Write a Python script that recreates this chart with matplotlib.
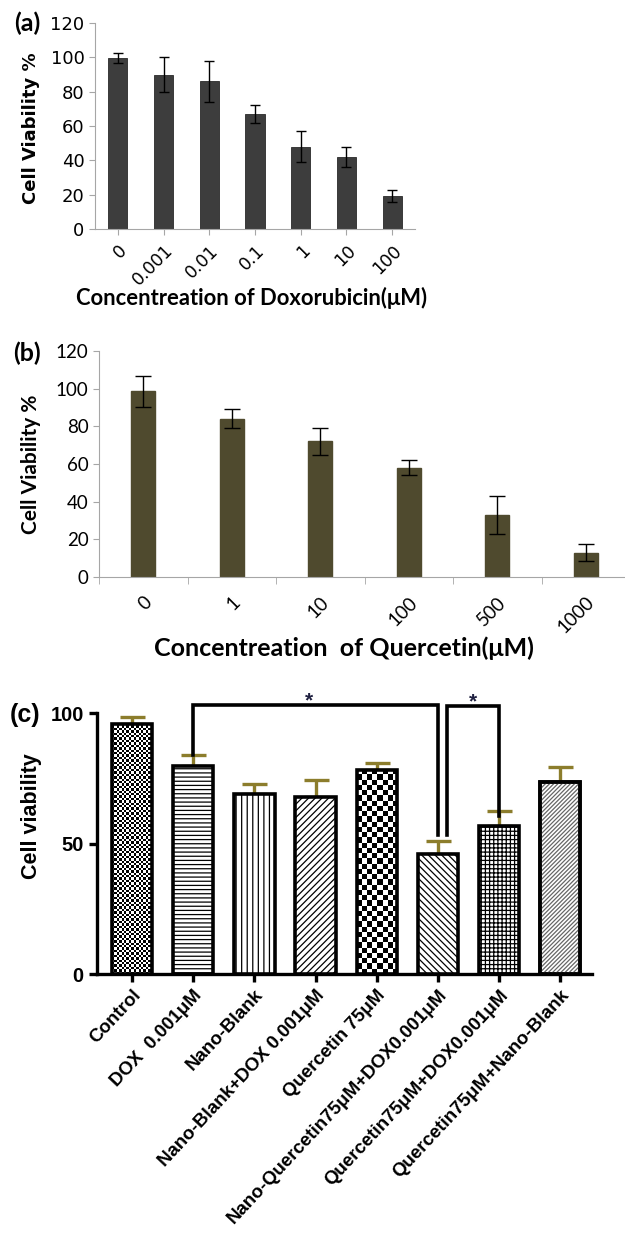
import numpy as np
import matplotlib.pyplot as plt

# ---- data ----
dox_conc = ["0", "0.001", "0.01", "0.1", "1", "10", "100"]
dox_via = [99.5, 90, 86, 67, 48, 42, 19.5]
dox_err = [3, 10, 12, 5, 9, 6, 3.5]

que_conc = ["0", "1", "10", "100", "500", "1000"]
que_via = [98.5, 84, 72, 58, 33, 13]
que_err = [8, 5, 7, 4, 10, 4.5]

groups = ["Control", "DOX  0.001μM", "Nano-Blank", "Nano-Blank+DOX 0.001μM",
          "Quercetin 75μM", "Nano-Quercetin75μM+DOX0.001μM",
          "Quercetin75μM+DOX0.001μM", "Quercetin75μM+Nano-Blank"]
grp_via = [95.8, 79.6, 69, 68, 78.3, 46.1, 56.6, 73.6]
grp_err = [2.7, 4.3, 3.8, 6.5, 2.5, 4.7, 5.7, 5.7]
sig_pairs = [(1, 5), (5, 6)]

W, H = 625, 1235
fig = plt.figure(figsize=(W / 100, H / 100), dpi=100)
plt.rcParams['hatch.linewidth'] = 0.9
arial = ['Liberation Sans', 'DejaVu Sans']


def axes_px(l, t, r, b):
    return fig.add_axes([l / W, 1 - b / H, (r - l) / W, (b - t) / H])


def ftext(x, y, s, **kw):
    fig.text(x / W, 1 - y / H, s, **kw)


gray = '#a6a6a6'

# ---- (a) doxorubicin ----
ax1 = axes_px(95, 23, 415, 229)
x = np.arange(len(dox_conc))
ax1.bar(x, dox_via, width=0.42, color='#3d3d3d', edgecolor='#2a2a2a', lw=0.6)
ax1.errorbar(x, dox_via, yerr=dox_err, fmt='none', ecolor='black', elinewidth=1,
             capsize=3.6, capthick=1)
ax1.set_xlim(-0.5, 6.5)
ax1.set_ylim(0, 120)
ax1.set_yticks(range(0, 121, 20))
ax1.set_xticks(x)
ax1.set_xticklabels(dox_conc, rotation=45, ha='right', va='top', rotation_mode='anchor')
for s in ['top', 'right']:
    ax1.spines[s].set_visible(False)
for s in ['left', 'bottom']:
    ax1.spines[s].set_color(gray)
ax1.tick_params(colors=gray, labelcolor='black', labelsize=13, length=4)
ax1.tick_params(axis='x', labelsize=12.5, pad=5)
ftext(252, 298, "Concentreation of Doxorubicin(μM)", family='Lato', weight='bold',
      fontsize=15.8, ha='center', va='center')
ftext(31, 128, "Cell Viability %", fontsize=13, weight='bold', rotation=90,
      ha='center', va='center')
ftext(27, 23, "(a)", family='Lato', fontsize=18, weight='bold', ha='center', va='center')

# ---- (b) quercetin ----
ax2 = axes_px(99, 351, 630, 577)
x = np.arange(len(que_conc))
ax2.bar(x, que_via, width=0.27, color='#4f4a2e', edgecolor='#4f4a2e')
ax2.errorbar(x, que_via, yerr=que_err, fmt='none', ecolor='black', elinewidth=1,
             capsize=5.5, capthick=1)
ax2.set_xlim(-0.5, 5.5)
ax2.set_ylim(0, 120)
ax2.set_yticks(range(0, 121, 20))
ax2.set_xticks(x)
ax2.set_xticks(np.arange(-0.5, 6, 1), minor=True)
ax2.set_xticklabels(que_conc, rotation=45, ha='right', va='top', rotation_mode='anchor',
                    family='Lato')
for lab in ax2.get_yticklabels():
    lab.set_family('Lato')
for s in ['top', 'right']:
    ax2.spines[s].set_visible(False)
for s in ['left', 'bottom']:
    ax2.spines[s].set_color(gray)
ax2.tick_params(colors=gray, labelcolor='black', labelsize=13.5, length=4)
ax2.tick_params(axis='x', which='major', length=0, pad=12)
ax2.tick_params(axis='x', which='minor', length=5, color=gray)
ftext(344, 648, "Concentreation  of Quercetin(μM)", family='Lato', weight='bold',
      fontsize=18, ha='center', va='center')
ftext(31, 464, "Cell Viability %", family='Lato', fontsize=15, weight='bold',
      rotation=90, ha='center', va='center')
ftext(27, 353, "(b)", family='Lato', fontsize=18, weight='bold', ha='center', va='center')

# ---- (c) combinations ----
ax3 = axes_px(97, 713, 592, 974)
x = np.arange(len(groups))
ax3.set_xlim(-0.573, 7.52)
ax3.set_ylim(0, 100)
hatches = [None, '----', '|||', '/////', None, '\\\\\\\\\\', '++++', None]
faces = ['none', 'white', 'white', 'white', 'none', 'white', 'white', 'white']
bars = ax3.bar(x, grp_via, width=0.66, color=faces, edgecolor='black',
               lw=2.6, zorder=3)
for b, h in zip(bars, hatches):
    if h:
        b.set_hatch(h)
# grey fine diagonal texture for the last group, under its black outline
ax3.bar(x[-1:], grp_via[-1:], width=0.66, facecolor='none', edgecolor='#666666',
        lw=0, hatch='////////', zorder=3.2)
ax3.bar(x[-1:], grp_via[-1:], width=0.66, facecolor='none', edgecolor='black',
        lw=2.6, zorder=3.4)
ax3.errorbar(x, grp_via, yerr=[[0] * len(x), grp_err], fmt='none', ecolor='#8c7d2c',
             elinewidth=2.4, capsize=9, capthick=2.4, zorder=2)


def checker(ax, bar, cell):
    # checkerboard texture clipped to the bar outline
    bx, by = bar.get_x(), bar.get_y()
    bw, bh = bar.get_width(), bar.get_height()
    p0 = ax.transData.transform((bx, by))
    p1 = ax.transData.transform((bx + bw, by + bh))
    nx = max(1, int(round((p1[0] - p0[0]) / cell)))
    ny = max(1, int(round((p1[1] - p0[1]) / cell)))
    img = np.indices((ny, nx)).sum(0) % 2
    im = ax.imshow(img, extent=(bx, bx + bw, by, by + bh), cmap='gray_r',
                   interpolation='nearest', aspect='auto', zorder=2.5, vmin=0, vmax=1)
    im.set_clip_path(bar)


checker(ax3, bars[0], 2.4)
checker(ax3, bars[4], 5.2)
ax3.set_xlim(-0.573, 7.52)
ax3.set_ylim(0, 100)

for i, j in sig_pairs:
    top_i = grp_via[i] + grp_err[i]
    top_j = grp_via[j] + grp_err[j]
    if j - i > 1:
        xs = [i, i, j, j]
        ys = [top_i, 103.2, 103.2, top_j + 2.6]
        sx = (i + j) / 2 - 0.1
    else:
        xs = [i + 0.15, i + 0.15, j, j]
        ys = [grp_via[i] + grp_err[i] + 2.6, 102.6, 102.6, top_j - 1.8]
        sx = (i + 0.15 + j) / 2
    ax3.plot(xs, ys, color='black', lw=2.6, clip_on=False, solid_joinstyle='miter',
             zorder=4)
    ax3.text(sx, ys[1] + 1.5, "*", ha='center', va='center', fontsize=15,
             color='#1f2040', clip_on=False, family=arial, weight='bold')

ax3.set_yticks([0, 50, 100])
ax3.set_xticks(x)
ax3.set_xticklabels(groups, rotation=47, ha='right', va='top', rotation_mode='anchor',
                    family=arial, weight='bold')
for lab in ax3.get_yticklabels():
    lab.set_family(arial)
    lab.set_weight('bold')
for s in ['top', 'right']:
    ax3.spines[s].set_visible(False)
for s in ['left', 'bottom']:
    ax3.spines[s].set_linewidth(2.4)
ax3.tick_params(width=2.4, length=6)
ax3.tick_params(axis='y', labelsize=14.5)
ax3.tick_params(axis='x', pad=3, labelsize=13.5)
ftext(32, 816, "Cell viability", family=arial, fontsize=15.5, weight='bold',
      rotation=90, ha='center', va='center')
ftext(25, 715, "(c)", family=arial, fontsize=18, weight='bold',
      ha='center', va='center')

fig.savefig("out.png", dpi=100)
